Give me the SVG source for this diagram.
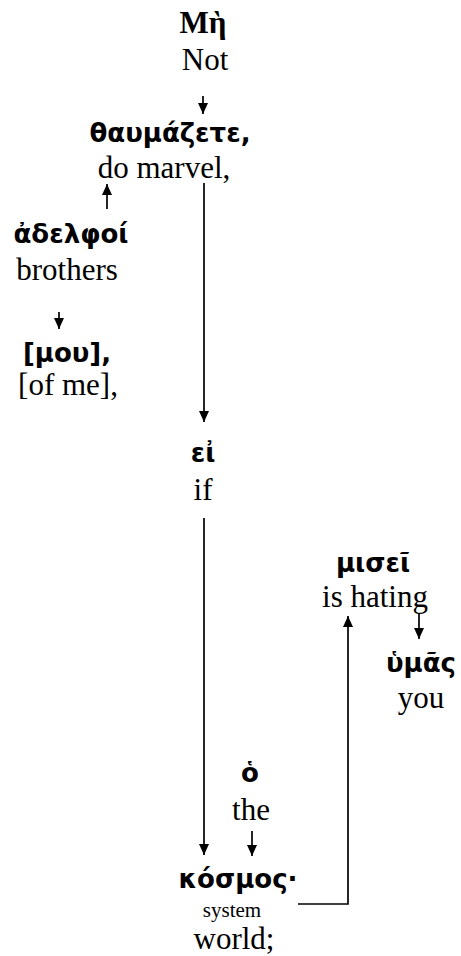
<svg xmlns="http://www.w3.org/2000/svg" width="461" height="956" viewBox="0 0 461 956">
<style>
.gr{font-family:"DejaVu Sans",sans-serif;font-weight:bold;font-size:26px;fill:#000;text-anchor:middle}
.grs{font-family:"Liberation Serif",serif;font-weight:bold;font-size:31px;fill:#000;text-anchor:middle}
.en{font-family:"Liberation Serif",serif;font-size:31px;fill:#000;text-anchor:middle}
.sm{font-family:"Liberation Serif",serif;font-size:21px;fill:#000;text-anchor:middle}
.ln{stroke:#000;stroke-width:1.7;fill:none}
</style>
<defs>
<marker id="ah" viewBox="0 0 11 10" refX="11" refY="5" markerWidth="11" markerHeight="10" markerUnits="userSpaceOnUse" orient="auto">
<path d="M0,0 L11,5 L0,10 Z" fill="#000"/>
</marker>
</defs>
<g id="connectors">
<line class="ln" x1="203" y1="96" x2="203" y2="114" marker-end="url(#ah)"/>
<line class="ln" x1="204" y1="183" x2="204" y2="422" marker-end="url(#ah)"/>
<line class="ln" x1="107" y1="209" x2="107" y2="184" marker-end="url(#ah)"/>
<line class="ln" x1="59" y1="312" x2="59" y2="329" marker-end="url(#ah)"/>
<line class="ln" x1="204" y1="518" x2="204" y2="855" marker-end="url(#ah)"/>
<line class="ln" x1="252" y1="831" x2="252" y2="856" marker-end="url(#ah)"/>
<polyline class="ln" points="298,904 348,904 348,616" marker-end="url(#ah)"/>
<line class="ln" x1="419" y1="614" x2="419" y2="639" marker-end="url(#ah)"/>
</g>
<g id="n-me"><text class="grs" x="203" y="33">Μὴ</text><text class="en" x="205" y="70">Not</text></g>
<g id="n-thaumazete"><text class="gr" x="170" y="142">θαυμάζετε,</text><text class="en" x="164" y="178">do marvel,</text></g>
<g id="n-adelphoi"><text class="gr" x="71" y="243">ἀδελφοί</text><text class="en" x="67" y="280">brothers</text></g>
<g id="n-mou"><text class="gr" x="67" y="362">[μου],</text><text class="en" x="68" y="395">[of me],</text></g>
<g id="n-ei"><text class="gr" x="203" y="462">εἰ</text><text class="en" x="203" y="500">if</text></g>
<g id="n-misei"><text class="gr" x="373" y="572">μισεῖ</text><text class="en" x="375" y="607">is hating</text></g>
<g id="n-humas"><text class="gr" x="421" y="672">ὑμᾶς</text><text class="en" x="421" y="708">you</text></g>
<g id="n-ho"><text class="gr" x="250" y="782">ὁ</text><text class="en" x="251" y="820">the</text></g>
<g id="n-kosmos"><text class="gr" x="238" y="888">κόσμος·</text><text class="sm" x="232" y="917">system</text><text class="en" x="234" y="949">world;</text></g>
</svg>
